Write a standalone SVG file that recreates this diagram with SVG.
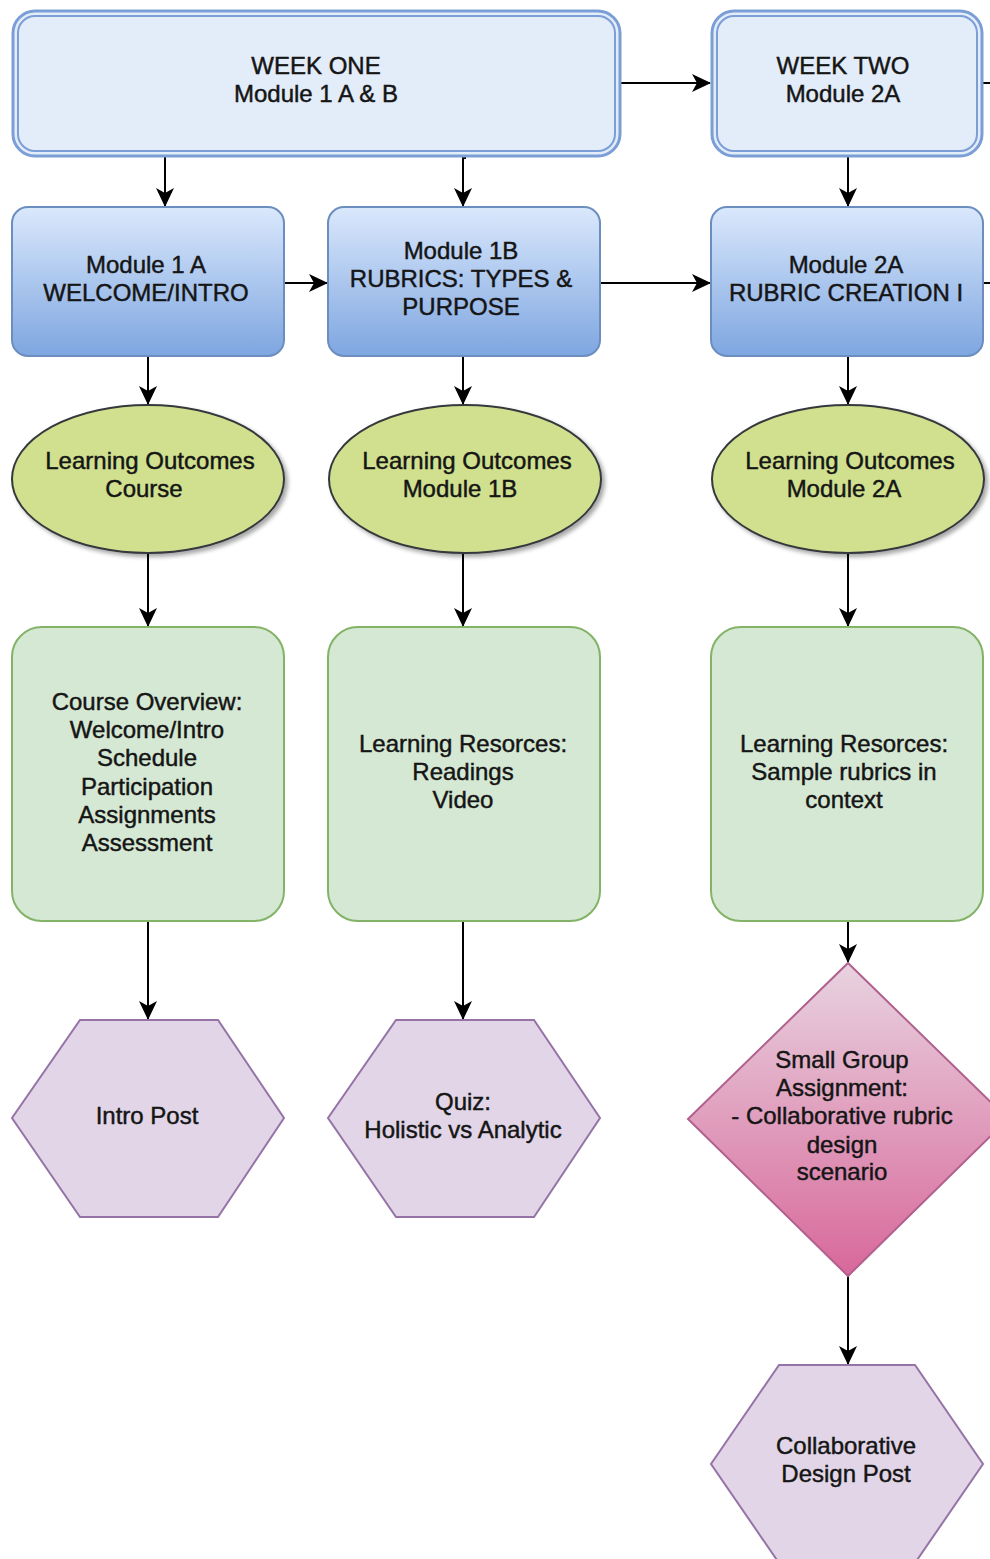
<svg xmlns="http://www.w3.org/2000/svg" width="990" height="1559" viewBox="0 0 990 1559">
<style>
text{font-family:"Liberation Sans",Arial,sans-serif;font-size:24px;fill:#151515;stroke:#151515;stroke-width:0.45;text-anchor:middle}
.wk{fill:#e3ecf9;stroke:#7b9ed6;stroke-width:3}
.wki{fill:none;stroke:#7b9ed6;stroke-width:2}
.mod{fill:url(#blue);stroke:#6c8ebf;stroke-width:2}
.lo{fill:#d0e08e;stroke:#36393d;stroke-width:2;filter:url(#sh)}
.res{fill:#d5e8d4;stroke:#82b366;stroke-width:2}
.hex{fill:#e1d5e7;stroke:#9673a6;stroke-width:2}
.dia{fill:url(#pink);stroke:#b0608c;stroke-width:2}
.c{fill:none;stroke:#000;stroke-width:2;marker-end:url(#ar)}
.cn{fill:none;stroke:#000;stroke-width:2}
</style>
<defs>
<linearGradient id="blue" x1="0" y1="0" x2="0" y2="1"><stop offset="0" stop-color="#dae8fc"/><stop offset="1" stop-color="#7ea6e0"/></linearGradient>
<linearGradient id="pink" x1="0" y1="0" x2="0" y2="1"><stop offset="0" stop-color="#e8d3e0"/><stop offset="1" stop-color="#d8689a"/></linearGradient>
<filter id="sh" x="-10%" y="-10%" width="125%" height="130%"><feDropShadow dx="3" dy="3" stdDeviation="2" flood-color="#000" flood-opacity="0.35"/></filter>
<marker id="ar" viewBox="0 0 19 18" refX="18" refY="9" markerWidth="19" markerHeight="18" markerUnits="userSpaceOnUse" orient="auto"><path d="M0,0 L19,9 L0,18 L5,9 z" fill="#000"/></marker>
</defs>

<g id="connectors">
<path class="c" d="M621,83 H710"/>
<path class="cn" d="M982,83 H990"/>
<path class="c" d="M165,157 V206"/>
<path class="c" d="M466,158 H463 V206"/>
<path class="c" d="M848,157 V206"/>
<path class="c" d="M284,283 H327"/>
<path class="c" d="M600,283 H710"/>
<path class="cn" d="M983,283 H990"/>
<path class="c" d="M148,356 V404"/>
<path class="c" d="M463,356 V404"/>
<path class="c" d="M848,356 V404"/>
<path class="c" d="M148,553 V626"/>
<path class="c" d="M463,553 V626"/>
<path class="c" d="M848,553 V626"/>
<path class="c" d="M148,921 V1019"/>
<path class="c" d="M463,921 V1019"/>
<path class="c" d="M848,921 V962"/>
<path class="c" d="M848,1276 V1364"/>
</g>

<g id="week-one">
<rect class="wk" x="13" y="11" width="607" height="145" rx="22"/>
<rect class="wki" x="18" y="16" width="597" height="135" rx="17"/>
<text x="316" y="74">WEEK ONE</text>
<text x="316" y="102">Module 1 A &amp; B</text>
</g>
<g id="week-two">
<rect class="wk" x="712" y="11" width="270" height="145" rx="22"/>
<rect class="wki" x="717" y="16" width="260" height="135" rx="17"/>
<text x="843" y="74">WEEK TWO</text>
<text x="843" y="102">Module 2A</text>
</g>

<g id="module-1a">
<rect class="mod" x="12" y="207" width="272" height="149" rx="16"/>
<text x="146" y="273">Module 1 A</text>
<text x="146" y="301">WELCOME/INTRO</text>
</g>
<g id="module-1b">
<rect class="mod" x="328" y="207" width="272" height="149" rx="16"/>
<text x="461" y="259">Module 1B</text>
<text x="461" y="287">RUBRICS: TYPES &amp;</text>
<text x="461" y="315">PURPOSE</text>
</g>
<g id="module-2a">
<rect class="mod" x="711" y="207" width="272" height="149" rx="16"/>
<text x="846" y="273">Module 2A</text>
<text x="846" y="301">RUBRIC CREATION I</text>
</g>

<g id="lo-course">
<ellipse class="lo" cx="148" cy="479" rx="136" ry="74"/>
<text x="150" y="469">Learning Outcomes</text>
<text x="144" y="497">Course</text>
</g>
<g id="lo-1b">
<ellipse class="lo" cx="465" cy="479" rx="136" ry="74"/>
<text x="467" y="469">Learning Outcomes</text>
<text x="460" y="497">Module 1B</text>
</g>
<g id="lo-2a">
<ellipse class="lo" cx="848" cy="479" rx="136" ry="74"/>
<text x="850" y="469">Learning Outcomes</text>
<text x="844" y="497">Module 2A</text>
</g>

<g id="course-overview">
<rect class="res" x="12" y="627" width="272" height="294" rx="30"/>
<text x="147" y="710">Course Overview:</text>
<text x="147" y="738">Welcome/Intro</text>
<text x="147" y="766">Schedule</text>
<text x="147" y="795">Participation</text>
<text x="147" y="823">Assignments</text>
<text x="147" y="851">Assessment</text>
</g>
<g id="resources-1b">
<rect class="res" x="328" y="627" width="272" height="294" rx="30"/>
<text x="463" y="752">Learning Resorces:</text>
<text x="463" y="780">Readings</text>
<text x="463" y="808">Video</text>
</g>
<g id="resources-2a">
<rect class="res" x="711" y="627" width="272" height="294" rx="30"/>
<text x="844" y="752">Learning Resorces:</text>
<text x="844" y="780">Sample rubrics in</text>
<text x="844" y="808">context</text>
</g>

<g id="intro-post">
<polygon class="hex" points="80,1020 218,1020 284,1118 218,1217 80,1217 12,1118"/>
<text x="147" y="1124">Intro Post</text>
</g>
<g id="quiz">
<polygon class="hex" points="396,1020 534,1020 600,1118 534,1217 396,1217 328,1118"/>
<text x="463" y="1110">Quiz:</text>
<text x="463" y="1138">Holistic vs Analytic</text>
</g>
<g id="small-group">
<polygon class="dia" points="848,963 1008,1119 848,1276 688,1119"/>
<text x="842" y="1068">Small Group</text>
<text x="842" y="1096">Assignment:</text>
<text x="842" y="1124">- Collaborative rubric</text>
<text x="842" y="1153">design</text>
<text x="842" y="1180">scenario</text>
</g>
<g id="collab-post">
<polygon class="hex" points="779,1365 915,1365 983,1464 915,1563 779,1563 711,1464"/>
<text x="846" y="1454">Collaborative</text>
<text x="846" y="1482">Design Post</text>
</g>
</svg>
